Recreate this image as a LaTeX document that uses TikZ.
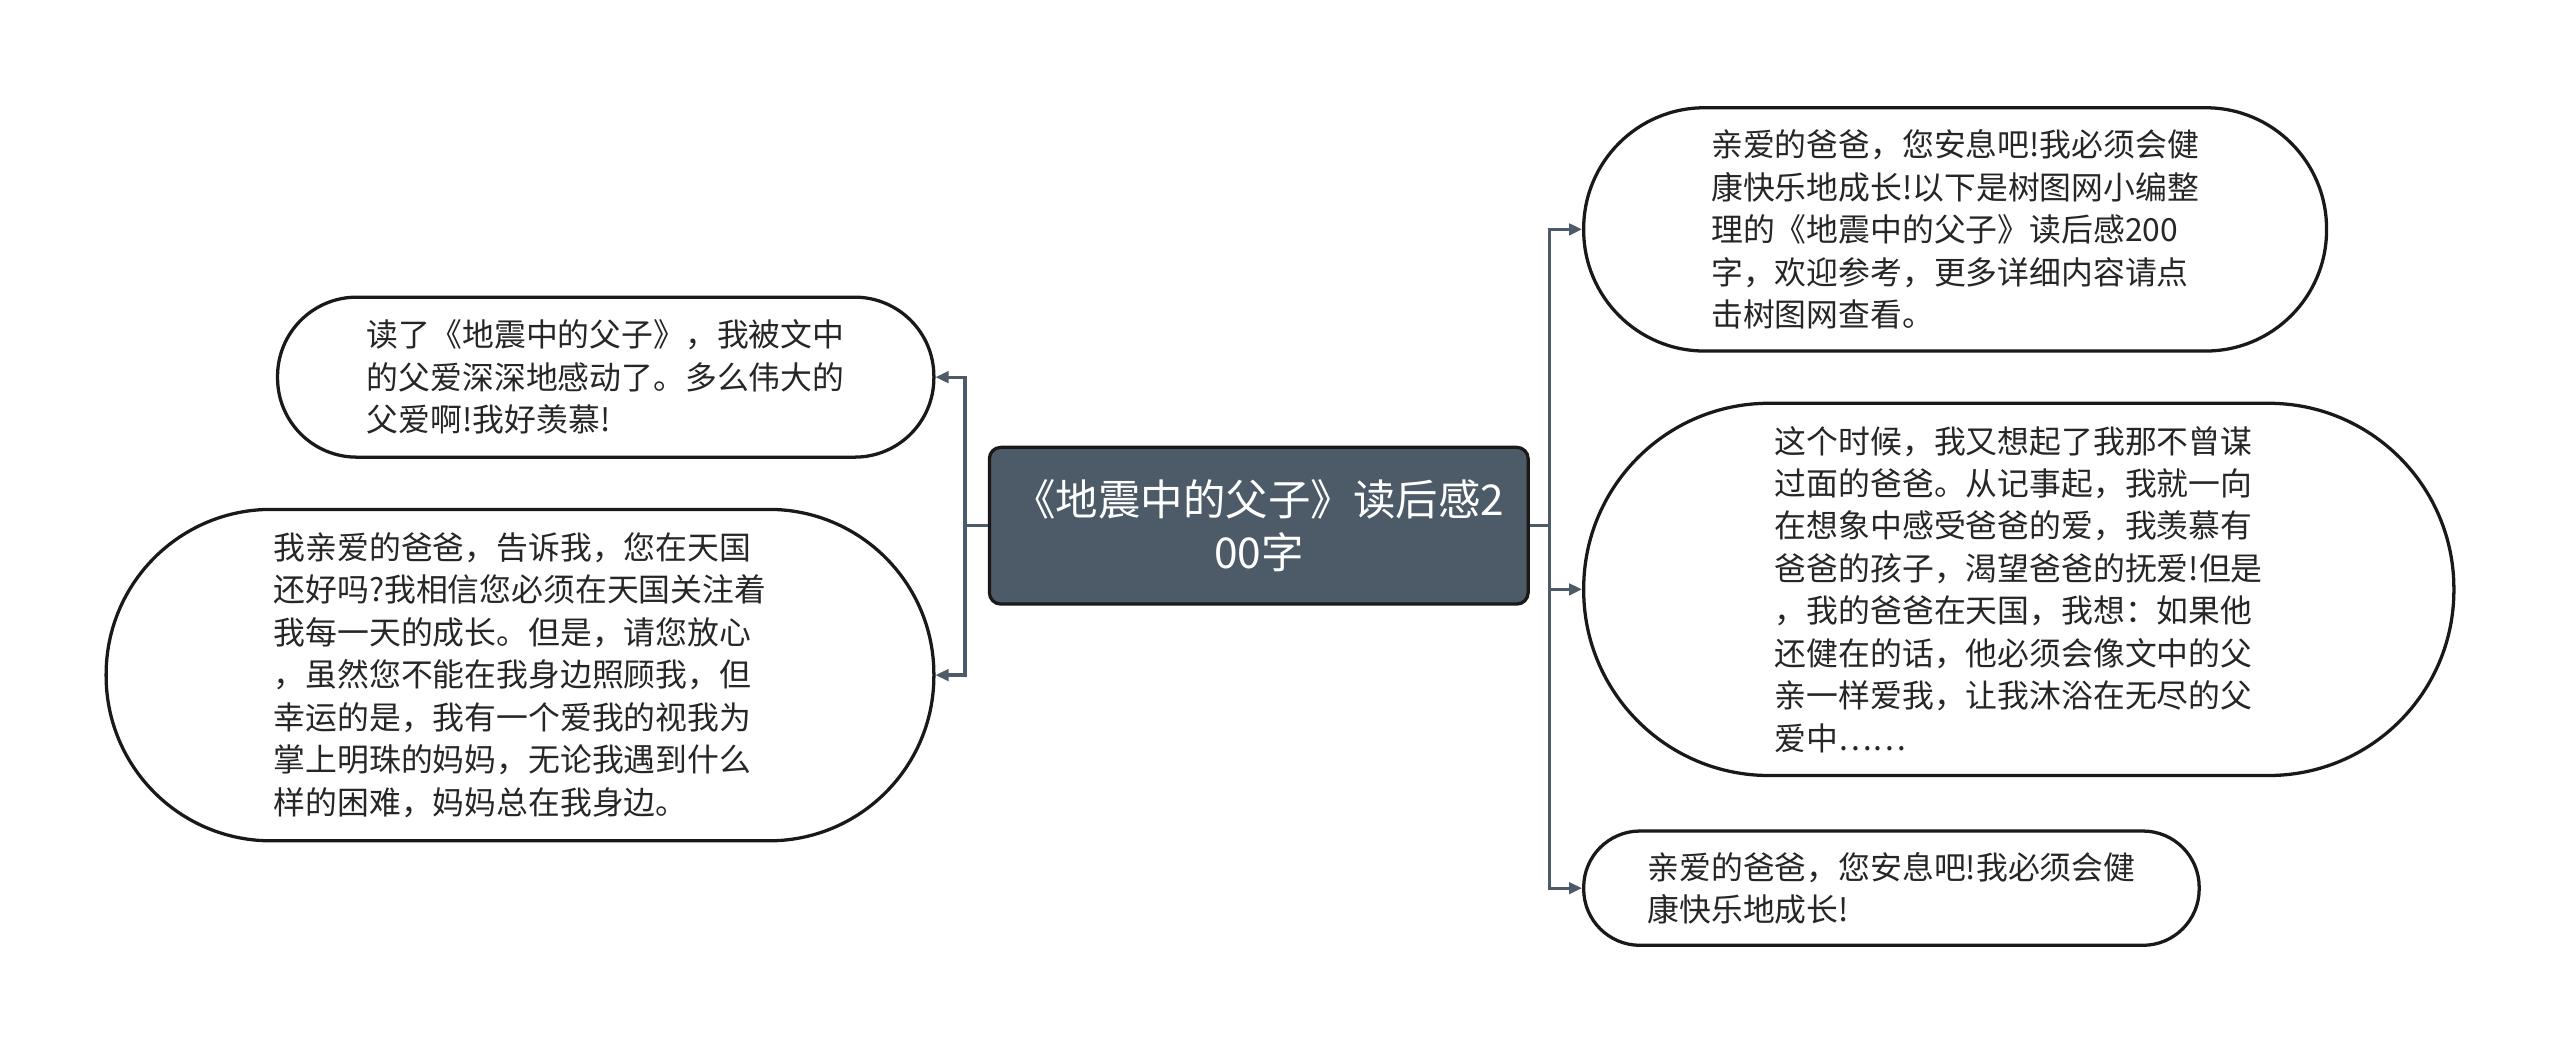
\documentclass[tikz,border=0pt]{standalone}
\usepackage{fontspec}
\setmainfont{Noto Sans CJK SC}
\usepackage{xcolor}
\usetikzlibrary{arrows.meta}
\definecolor{slate}{HTML}{4D5B69}

\begin{document}
\begin{tikzpicture}[x=1pt,y=-1pt,>={Triangle[length=8pt,width=7pt]},
    leaf/.style={draw=black!90,line width=2pt,fill=white,text=black!85,align=left,font=\fontsize{19.5}{26}\selectfont},
    link/.style={->,draw=slate,line width=2pt}]
    \useasboundingbox (0,0) rectangle (1568,645);
    \node[draw=black!90,line width=2pt,fill=slate,text=white,rounded corners=7pt,minimum width=330pt,minimum height=96pt,align=center,font=\fontsize{26}{33}\selectfont] (0) at (771,322) {《地震中的父子》读后感2\\00字};
    % left
    \node[leaf,minimum width=402pt,minimum height=98pt,rounded corners=48.5pt] (1) at (371,231) {读了《地震中的父子》，我被文中\\的父爱深深地感动了。多么伟大的\\父爱啊!我好羡慕!};
    \node[leaf,minimum width=507pt,minimum height=203pt,rounded corners=101pt] (2) at (318.5,413.5) {我亲爱的爸爸，告诉我，您在天国\\还好吗?我相信您必须在天国关注着\\我每一天的成长。但是，请您放心\\，虽然您不能在我身边照顾我，但\\幸运的是，我有一个爱我的视我为\\掌上明珠的妈妈，无论我遇到什么\\样的困难，妈妈总在我身边。};
    % right
    \node[leaf,minimum width=455pt,minimum height=149pt,rounded corners=74pt] (3) at (1197.5,140.5) {亲爱的爸爸，您安息吧!我必须会健\\康快乐地成长!以下是树图网小编整\\理的《地震中的父子》读后感200\\字，欢迎参考，更多详细内容请点\\击树图网查看。};
    \node[leaf,minimum width=533pt,minimum height=228pt,rounded corners=113.5pt] (4) at (1236.5,361) {这个时候，我又想起了我那不曾谋\\过面的爸爸。从记事起，我就一向\\在想象中感受爸爸的爱，我羡慕有\\爸爸的孩子，渴望爸爸的抚爱!但是\\，我的爸爸在天国，我想：如果他\\还健在的话，他必须会像文中的父\\亲一样爱我，让我沐浴在无尽的父\\爱中……};
    \node[leaf,minimum width=377pt,minimum height=70pt,rounded corners=34.5pt] (5) at (1158.5,544) {亲爱的爸爸，您安息吧!我必须会健\\康快乐地成长!};
    \draw[link] (0.west) -- ++(-14,0) |- (1.east);
    \draw[link] (0.west) -- ++(-14,0) |- (2.east);
    \draw[link] (0.east) -- ++(12,0) |- (3.west);
    \draw[link] (0.east) -- ++(12,0) |- (4.west);
    \draw[link] (0.east) -- ++(12,0) |- (5.west);
\end{tikzpicture}
\end{document}
